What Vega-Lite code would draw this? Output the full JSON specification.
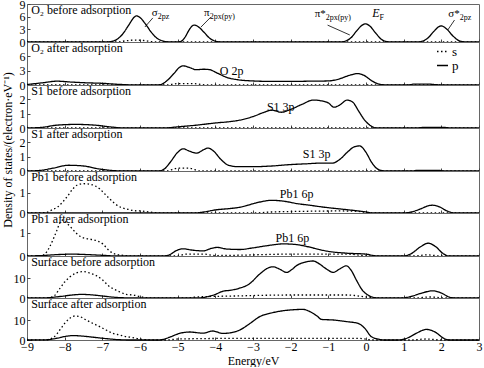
{
"$schema": "https://vega.github.io/schema/vega-lite/v6.json",
"padding": {"left": 0, "top": -3, "right": 0, "bottom": 0},
"autosize": {"type": "pad"},
"config": {
  "font": "Times New Roman, Liberation Serif, serif",
  "text": {"font": "Times New Roman, Liberation Serif, serif"},
  "view": {"stroke": "#666", "strokeWidth": 1},
  "axis": {"domain": false, "grid": false, "labelFont": "Times New Roman, Liberation Serif, serif", "titleFont": "Times New Roman, Liberation Serif, serif", "labelFontSize": 12, "labelColor": "#000", "titleFontSize": 12, "titleFontWeight": "normal", "titleColor": "#000", "tickColor": "#444", "labelOverlap": false},
  "legend": {"labelFont": "Times New Roman, Liberation Serif, serif"},
  "concat": {"spacing": 0}
},
"datasets": {
"curves": [
{"p":1,"o":"p","E":-9,"v":0},{"p":1,"o":"p","E":-6.9,"v":0},{"p":1,"o":"p","E":-6.75,"v":0.15},{"p":1,"o":"p","E":-6.6,"v":0.7},{"p":1,"o":"p","E":-6.45,"v":2.0},{"p":1,"o":"p","E":-6.3,"v":4.0},{"p":1,"o":"p","E":-6.15,"v":5.9},{"p":1,"o":"p","E":-6.1,"v":6.2},{"p":1,"o":"p","E":-6.0,"v":5.8},{"p":1,"o":"p","E":-5.85,"v":4.2},{"p":1,"o":"p","E":-5.7,"v":2.3},{"p":1,"o":"p","E":-5.55,"v":0.9},{"p":1,"o":"p","E":-5.4,"v":0.25},{"p":1,"o":"p","E":-5.25,"v":0.03},{"p":1,"o":"p","E":-5.1,"v":0},{"p":1,"o":"p","E":-5.0,"v":0},{"p":1,"o":"p","E":-4.9,"v":0.2},{"p":1,"o":"p","E":-4.8,"v":1.2},{"p":1,"o":"p","E":-4.7,"v":2.8},{"p":1,"o":"p","E":-4.6,"v":3.9},{"p":1,"o":"p","E":-4.55,"v":4.0},{"p":1,"o":"p","E":-4.45,"v":3.6},{"p":1,"o":"p","E":-4.3,"v":2.3},{"p":1,"o":"p","E":-4.15,"v":0.9},{"p":1,"o":"p","E":-4.0,"v":0.2},{"p":1,"o":"p","E":-3.85,"v":0},{"p":1,"o":"p","E":-0.7,"v":0},{"p":1,"o":"p","E":-0.55,"v":0.2},{"p":1,"o":"p","E":-0.4,"v":1.0},{"p":1,"o":"p","E":-0.25,"v":2.6},{"p":1,"o":"p","E":-0.1,"v":4.0},{"p":1,"o":"p","E":-0.02,"v":4.3},{"p":1,"o":"p","E":0.1,"v":3.8},{"p":1,"o":"p","E":0.25,"v":2.2},{"p":1,"o":"p","E":0.4,"v":0.7},{"p":1,"o":"p","E":0.55,"v":0.1},{"p":1,"o":"p","E":0.7,"v":0},{"p":1,"o":"p","E":1.35,"v":0},{"p":1,"o":"p","E":1.5,"v":0.2},{"p":1,"o":"p","E":1.65,"v":1.0},{"p":1,"o":"p","E":1.8,"v":2.5},{"p":1,"o":"p","E":1.95,"v":3.7},{"p":1,"o":"p","E":2.0,"v":3.8},{"p":1,"o":"p","E":2.15,"v":3.0},{"p":1,"o":"p","E":2.3,"v":1.5},{"p":1,"o":"p","E":2.45,"v":0.4},{"p":1,"o":"p","E":2.6,"v":0.05},{"p":1,"o":"p","E":2.75,"v":0},{"p":1,"o":"p","E":3,"v":0},
{"p":1,"o":"s","E":-9,"v":0},{"p":1,"o":"s","E":-6.6,"v":0},{"p":1,"o":"s","E":-6.4,"v":0.25},{"p":1,"o":"s","E":-6.15,"v":0.45},{"p":1,"o":"s","E":-5.9,"v":0.35},{"p":1,"o":"s","E":-5.7,"v":0.1},{"p":1,"o":"s","E":-5.5,"v":0},{"p":1,"o":"s","E":3,"v":0},
{"p":2,"o":"p","E":-9,"v":0.1},{"p":2,"o":"p","E":-8.6,"v":0.45},{"p":2,"o":"p","E":-8.2,"v":0.8},{"p":2,"o":"p","E":-7.8,"v":0.6},{"p":2,"o":"p","E":-7.4,"v":0.45},{"p":2,"o":"p","E":-7.0,"v":0.35},{"p":2,"o":"p","E":-6.6,"v":0.15},{"p":2,"o":"p","E":-6.2,"v":0.02},{"p":2,"o":"p","E":-5.7,"v":0},{"p":2,"o":"p","E":-5.45,"v":0.1},{"p":2,"o":"p","E":-5.3,"v":0.8},{"p":2,"o":"p","E":-5.1,"v":2.4},{"p":2,"o":"p","E":-4.95,"v":3.7},{"p":2,"o":"p","E":-4.85,"v":4.0},{"p":2,"o":"p","E":-4.7,"v":3.7},{"p":2,"o":"p","E":-4.5,"v":3.2},{"p":2,"o":"p","E":-4.3,"v":3.3},{"p":2,"o":"p","E":-4.15,"v":3.2},{"p":2,"o":"p","E":-3.95,"v":2.5},{"p":2,"o":"p","E":-3.7,"v":1.6},{"p":2,"o":"p","E":-3.4,"v":1.1},{"p":2,"o":"p","E":-3.0,"v":0.85},{"p":2,"o":"p","E":-2.5,"v":0.75},{"p":2,"o":"p","E":-2.0,"v":0.75},{"p":2,"o":"p","E":-1.5,"v":0.8},{"p":2,"o":"p","E":-1.0,"v":0.85},{"p":2,"o":"p","E":-0.7,"v":1.3},{"p":2,"o":"p","E":-0.45,"v":2.0},{"p":2,"o":"p","E":-0.22,"v":2.4},{"p":2,"o":"p","E":-0.05,"v":2.0},{"p":2,"o":"p","E":0.15,"v":0.9},{"p":2,"o":"p","E":0.3,"v":0.3},{"p":2,"o":"p","E":0.45,"v":0.05},{"p":2,"o":"p","E":0.6,"v":0},{"p":2,"o":"p","E":1.1,"v":0},{"p":2,"o":"p","E":1.3,"v":0.2},{"p":2,"o":"p","E":1.6,"v":0.2},{"p":2,"o":"p","E":1.9,"v":0.05},{"p":2,"o":"p","E":2.1,"v":0},{"p":2,"o":"p","E":3,"v":0},
{"p":2,"o":"s","E":-9,"v":0},{"p":2,"o":"s","E":-5.3,"v":0},{"p":2,"o":"s","E":-5.0,"v":0.3},{"p":2,"o":"s","E":-4.6,"v":0.3},{"p":2,"o":"s","E":-4.2,"v":0},{"p":2,"o":"s","E":3,"v":0},
{"p":3,"o":"p","E":-9,"v":0},{"p":3,"o":"p","E":-8.6,"v":0.05},{"p":3,"o":"p","E":-8.2,"v":0.2},{"p":3,"o":"p","E":-7.7,"v":0.25},{"p":3,"o":"p","E":-7.2,"v":0.2},{"p":3,"o":"p","E":-6.8,"v":0.08},{"p":3,"o":"p","E":-6.4,"v":0},{"p":3,"o":"p","E":-5.4,"v":0},{"p":3,"o":"p","E":-5.0,"v":0.08},{"p":3,"o":"p","E":-4.5,"v":0.2},{"p":3,"o":"p","E":-4.0,"v":0.35},{"p":3,"o":"p","E":-3.6,"v":0.45},{"p":3,"o":"p","E":-3.35,"v":0.55},{"p":3,"o":"p","E":-3.0,"v":0.8},{"p":3,"o":"p","E":-2.7,"v":1.1},{"p":3,"o":"p","E":-2.5,"v":1.25},{"p":3,"o":"p","E":-2.25,"v":1.1},{"p":3,"o":"p","E":-2.0,"v":1.3},{"p":3,"o":"p","E":-1.7,"v":1.65},{"p":3,"o":"p","E":-1.4,"v":1.95},{"p":3,"o":"p","E":-1.2,"v":1.9},{"p":3,"o":"p","E":-1.0,"v":1.75},{"p":3,"o":"p","E":-0.85,"v":1.45},{"p":3,"o":"p","E":-0.7,"v":1.6},{"p":3,"o":"p","E":-0.5,"v":1.95},{"p":3,"o":"p","E":-0.35,"v":1.8},{"p":3,"o":"p","E":-0.2,"v":1.2},{"p":3,"o":"p","E":-0.05,"v":0.6},{"p":3,"o":"p","E":0.1,"v":0.2},{"p":3,"o":"p","E":0.2,"v":0.05},{"p":3,"o":"p","E":0.3,"v":0},{"p":3,"o":"p","E":1.3,"v":0},{"p":3,"o":"p","E":1.6,"v":0.05},{"p":3,"o":"p","E":2.0,"v":0.05},{"p":3,"o":"p","E":2.3,"v":0},{"p":3,"o":"p","E":3,"v":0},
{"p":3,"o":"s","E":-9,"v":0},{"p":3,"o":"s","E":3,"v":0},
{"p":4,"o":"p","E":-9,"v":0},{"p":4,"o":"p","E":-8.7,"v":0.03},{"p":4,"o":"p","E":-8.3,"v":0.2},{"p":4,"o":"p","E":-7.9,"v":0.4},{"p":4,"o":"p","E":-7.5,"v":0.35},{"p":4,"o":"p","E":-7.1,"v":0.15},{"p":4,"o":"p","E":-6.7,"v":0.03},{"p":4,"o":"p","E":-6.4,"v":0},{"p":4,"o":"p","E":-5.5,"v":0},{"p":4,"o":"p","E":-5.35,"v":0.15},{"p":4,"o":"p","E":-5.2,"v":0.6},{"p":4,"o":"p","E":-5.0,"v":1.3},{"p":4,"o":"p","E":-4.85,"v":1.55},{"p":4,"o":"p","E":-4.7,"v":1.4},{"p":4,"o":"p","E":-4.5,"v":1.25},{"p":4,"o":"p","E":-4.3,"v":1.5},{"p":4,"o":"p","E":-4.2,"v":1.6},{"p":4,"o":"p","E":-4.05,"v":1.4},{"p":4,"o":"p","E":-3.85,"v":0.8},{"p":4,"o":"p","E":-3.65,"v":0.4},{"p":4,"o":"p","E":-3.4,"v":0.3},{"p":4,"o":"p","E":-3.0,"v":0.3},{"p":4,"o":"p","E":-2.5,"v":0.35},{"p":4,"o":"p","E":-2.0,"v":0.45},{"p":4,"o":"p","E":-1.6,"v":0.5},{"p":4,"o":"p","E":-1.2,"v":0.55},{"p":4,"o":"p","E":-0.9,"v":0.55},{"p":4,"o":"p","E":-0.7,"v":0.8},{"p":4,"o":"p","E":-0.5,"v":1.3},{"p":4,"o":"p","E":-0.3,"v":1.7},{"p":4,"o":"p","E":-0.17,"v":1.75},{"p":4,"o":"p","E":0.0,"v":1.3},{"p":4,"o":"p","E":0.15,"v":0.6},{"p":4,"o":"p","E":0.3,"v":0.15},{"p":4,"o":"p","E":0.45,"v":0.02},{"p":4,"o":"p","E":0.6,"v":0},{"p":4,"o":"p","E":1.2,"v":0},{"p":4,"o":"p","E":1.4,"v":0.05},{"p":4,"o":"p","E":1.9,"v":0.05},{"p":4,"o":"p","E":2.1,"v":0},{"p":4,"o":"p","E":3,"v":0},
{"p":4,"o":"s","E":-9,"v":0},{"p":4,"o":"s","E":-5.3,"v":0},{"p":4,"o":"s","E":-5.0,"v":0.2},{"p":4,"o":"s","E":-4.7,"v":0.2},{"p":4,"o":"s","E":-4.4,"v":0},{"p":4,"o":"s","E":3,"v":0},
{"p":5,"o":"s","E":-9,"v":0},{"p":5,"o":"s","E":-8.5,"v":0.02},{"p":5,"o":"s","E":-8.31,"v":0.18},{"p":5,"o":"s","E":-8.18,"v":0.3},{"p":5,"o":"s","E":-8.05,"v":0.54},{"p":5,"o":"s","E":-7.91,"v":0.86},{"p":5,"o":"s","E":-7.78,"v":1.18},{"p":5,"o":"s","E":-7.65,"v":1.38},{"p":5,"o":"s","E":-7.5,"v":1.43},{"p":5,"o":"s","E":-7.34,"v":1.41},{"p":5,"o":"s","E":-7.2,"v":1.33},{"p":5,"o":"s","E":-7.07,"v":1.18},{"p":5,"o":"s","E":-6.94,"v":0.94},{"p":5,"o":"s","E":-6.81,"v":0.7},{"p":5,"o":"s","E":-6.67,"v":0.46},{"p":5,"o":"s","E":-6.5,"v":0.27},{"p":5,"o":"s","E":-6.32,"v":0.18},{"p":5,"o":"s","E":-6.14,"v":0.11},{"p":5,"o":"s","E":-5.97,"v":0.1},{"p":5,"o":"s","E":-5.79,"v":0.06},{"p":5,"o":"s","E":-5.6,"v":0.02},{"p":5,"o":"s","E":-5.4,"v":0},{"p":5,"o":"s","E":-3.0,"v":0},{"p":5,"o":"s","E":-2.5,"v":0.05},{"p":5,"o":"s","E":-1.7,"v":0.08},{"p":5,"o":"s","E":-0.7,"v":0.1},{"p":5,"o":"s","E":-0.2,"v":0.08},{"p":5,"o":"s","E":0.1,"v":0},{"p":5,"o":"s","E":3,"v":0},
{"p":5,"o":"p","E":-9,"v":0},{"p":5,"o":"p","E":-4.6,"v":0},{"p":5,"o":"p","E":-4.3,"v":0.05},{"p":5,"o":"p","E":-4.0,"v":0.15},{"p":5,"o":"p","E":-3.6,"v":0.22},{"p":5,"o":"p","E":-3.35,"v":0.28},{"p":5,"o":"p","E":-3.0,"v":0.45},{"p":5,"o":"p","E":-2.7,"v":0.58},{"p":5,"o":"p","E":-2.5,"v":0.62},{"p":5,"o":"p","E":-2.2,"v":0.58},{"p":5,"o":"p","E":-1.8,"v":0.45},{"p":5,"o":"p","E":-1.5,"v":0.38},{"p":5,"o":"p","E":-1.1,"v":0.28},{"p":5,"o":"p","E":-0.7,"v":0.2},{"p":5,"o":"p","E":-0.3,"v":0.12},{"p":5,"o":"p","E":0.0,"v":0.05},{"p":5,"o":"p","E":0.2,"v":0},{"p":5,"o":"p","E":1.0,"v":0},{"p":5,"o":"p","E":1.2,"v":0.05},{"p":5,"o":"p","E":1.45,"v":0.2},{"p":5,"o":"p","E":1.65,"v":0.35},{"p":5,"o":"p","E":1.77,"v":0.38},{"p":5,"o":"p","E":1.95,"v":0.3},{"p":5,"o":"p","E":2.15,"v":0.1},{"p":5,"o":"p","E":2.35,"v":0},{"p":5,"o":"p","E":3,"v":0},
{"p":6,"o":"s","E":-9,"v":0},{"p":6,"o":"s","E":-8.65,"v":0},{"p":6,"o":"s","E":-8.53,"v":0.08},{"p":6,"o":"s","E":-8.4,"v":0.39},{"p":6,"o":"s","E":-8.31,"v":0.7},{"p":6,"o":"s","E":-8.22,"v":1.05},{"p":6,"o":"s","E":-8.13,"v":1.41},{"p":6,"o":"s","E":-8.05,"v":1.55},{"p":6,"o":"s","E":-7.95,"v":1.42},{"p":6,"o":"s","E":-7.82,"v":1.21},{"p":6,"o":"s","E":-7.69,"v":0.98},{"p":6,"o":"s","E":-7.56,"v":0.82},{"p":6,"o":"s","E":-7.38,"v":0.74},{"p":6,"o":"s","E":-7.25,"v":0.7},{"p":6,"o":"s","E":-7.12,"v":0.64},{"p":6,"o":"s","E":-6.98,"v":0.51},{"p":6,"o":"s","E":-6.85,"v":0.28},{"p":6,"o":"s","E":-6.72,"v":0.12},{"p":6,"o":"s","E":-6.59,"v":0.06},{"p":6,"o":"s","E":-6.4,"v":0.02},{"p":6,"o":"s","E":-6.2,"v":0},{"p":6,"o":"s","E":-5.0,"v":0},{"p":6,"o":"s","E":-4.8,"v":0.08},{"p":6,"o":"s","E":-4.3,"v":0.08},{"p":6,"o":"s","E":-4.0,"v":0.02},{"p":6,"o":"s","E":-3.5,"v":0.03},{"p":6,"o":"s","E":-2.0,"v":0.08},{"p":6,"o":"s","E":-0.5,"v":0.08},{"p":6,"o":"s","E":0.1,"v":0},{"p":6,"o":"s","E":1.3,"v":0},{"p":6,"o":"s","E":1.6,"v":0.05},{"p":6,"o":"s","E":2.0,"v":0},{"p":6,"o":"s","E":3,"v":0},
{"p":6,"o":"p","E":-9,"v":0},{"p":6,"o":"p","E":-8.6,"v":0.02},{"p":6,"o":"p","E":-8.2,"v":0.06},{"p":6,"o":"p","E":-7.8,"v":0.08},{"p":6,"o":"p","E":-7.4,"v":0.06},{"p":6,"o":"p","E":-7.0,"v":0.03},{"p":6,"o":"p","E":-6.6,"v":0},{"p":6,"o":"p","E":-5.4,"v":0},{"p":6,"o":"p","E":-5.22,"v":0.05},{"p":6,"o":"p","E":-5.05,"v":0.22},{"p":6,"o":"p","E":-4.86,"v":0.31},{"p":6,"o":"p","E":-4.6,"v":0.25},{"p":6,"o":"p","E":-4.33,"v":0.22},{"p":6,"o":"p","E":-4.1,"v":0.33},{"p":6,"o":"p","E":-3.95,"v":0.37},{"p":6,"o":"p","E":-3.7,"v":0.3},{"p":6,"o":"p","E":-3.35,"v":0.28},{"p":6,"o":"p","E":-3.0,"v":0.35},{"p":6,"o":"p","E":-2.6,"v":0.45},{"p":6,"o":"p","E":-2.2,"v":0.52},{"p":6,"o":"p","E":-1.9,"v":0.5},{"p":6,"o":"p","E":-1.6,"v":0.42},{"p":6,"o":"p","E":-1.3,"v":0.3},{"p":6,"o":"p","E":-1.0,"v":0.2},{"p":6,"o":"p","E":-0.5,"v":0.12},{"p":6,"o":"p","E":0.0,"v":0.08},{"p":6,"o":"p","E":0.2,"v":0.02},{"p":6,"o":"p","E":0.4,"v":0},{"p":6,"o":"p","E":1.0,"v":0},{"p":6,"o":"p","E":1.2,"v":0.1},{"p":6,"o":"p","E":1.45,"v":0.4},{"p":6,"o":"p","E":1.65,"v":0.55},{"p":6,"o":"p","E":1.85,"v":0.4},{"p":6,"o":"p","E":2.05,"v":0.1},{"p":6,"o":"p","E":2.2,"v":0},{"p":6,"o":"p","E":3,"v":0},
{"p":7,"o":"s","E":-9,"v":0},{"p":7,"o":"s","E":-8.5,"v":0},{"p":7,"o":"s","E":-8.31,"v":0.65},{"p":7,"o":"s","E":-8.13,"v":4.7},{"p":7,"o":"s","E":-8.0,"v":8.0},{"p":7,"o":"s","E":-7.87,"v":10.4},{"p":7,"o":"s","E":-7.69,"v":12.5},{"p":7,"o":"s","E":-7.51,"v":13.2},{"p":7,"o":"s","E":-7.34,"v":12.5},{"p":7,"o":"s","E":-7.16,"v":11.2},{"p":7,"o":"s","E":-6.98,"v":8.8},{"p":7,"o":"s","E":-6.85,"v":6.3},{"p":7,"o":"s","E":-6.72,"v":4.7},{"p":7,"o":"s","E":-6.54,"v":3.1},{"p":7,"o":"s","E":-6.37,"v":1.8},{"p":7,"o":"s","E":-6.19,"v":1.5},{"p":7,"o":"s","E":-6.01,"v":0.8},{"p":7,"o":"s","E":-5.84,"v":0.2},{"p":7,"o":"s","E":-5.6,"v":0},{"p":7,"o":"s","E":-4.8,"v":0},{"p":7,"o":"s","E":-4.5,"v":0.5},{"p":7,"o":"s","E":-3.5,"v":1.0},{"p":7,"o":"s","E":-2.0,"v":1.5},{"p":7,"o":"s","E":-0.5,"v":1.5},{"p":7,"o":"s","E":0.1,"v":0.3},{"p":7,"o":"s","E":0.3,"v":0},{"p":7,"o":"s","E":1.3,"v":0},{"p":7,"o":"s","E":1.7,"v":0.5},{"p":7,"o":"s","E":2.1,"v":0},{"p":7,"o":"s","E":3,"v":0},
{"p":7,"o":"p","E":-9,"v":0},{"p":7,"o":"p","E":-8.5,"v":0.1},{"p":7,"o":"p","E":-8.1,"v":0.8},{"p":7,"o":"p","E":-7.8,"v":1.5},{"p":7,"o":"p","E":-7.55,"v":1.8},{"p":7,"o":"p","E":-7.3,"v":1.6},{"p":7,"o":"p","E":-7.0,"v":1.0},{"p":7,"o":"p","E":-6.7,"v":0.4},{"p":7,"o":"p","E":-6.4,"v":0.1},{"p":7,"o":"p","E":-6.0,"v":0},{"p":7,"o":"p","E":-4.5,"v":0},{"p":7,"o":"p","E":-4.3,"v":0.3},{"p":7,"o":"p","E":-4.0,"v":1.8},{"p":7,"o":"p","E":-3.8,"v":3.4},{"p":7,"o":"p","E":-3.59,"v":3.9},{"p":7,"o":"p","E":-3.36,"v":4.9},{"p":7,"o":"p","E":-3.1,"v":7.0},{"p":7,"o":"p","E":-2.82,"v":12.0},{"p":7,"o":"p","E":-2.6,"v":15.0},{"p":7,"o":"p","E":-2.47,"v":15.6},{"p":7,"o":"p","E":-2.3,"v":14.5},{"p":7,"o":"p","E":-2.11,"v":12.8},{"p":7,"o":"p","E":-1.95,"v":14.5},{"p":7,"o":"p","E":-1.85,"v":16.1},{"p":7,"o":"p","E":-1.6,"v":18.0},{"p":7,"o":"p","E":-1.4,"v":18.5},{"p":7,"o":"p","E":-1.25,"v":17.2},{"p":7,"o":"p","E":-1.05,"v":14.5},{"p":7,"o":"p","E":-0.87,"v":12.8},{"p":7,"o":"p","E":-0.7,"v":14.5},{"p":7,"o":"p","E":-0.52,"v":16.1},{"p":7,"o":"p","E":-0.4,"v":14.0},{"p":7,"o":"p","E":-0.25,"v":8.8},{"p":7,"o":"p","E":-0.1,"v":4.0},{"p":7,"o":"p","E":0.05,"v":1.5},{"p":7,"o":"p","E":0.19,"v":0.3},{"p":7,"o":"p","E":0.35,"v":0},{"p":7,"o":"p","E":0.95,"v":0},{"p":7,"o":"p","E":1.2,"v":0.8},{"p":7,"o":"p","E":1.5,"v":2.6},{"p":7,"o":"p","E":1.78,"v":3.6},{"p":7,"o":"p","E":2.0,"v":2.5},{"p":7,"o":"p","E":2.22,"v":0.4},{"p":7,"o":"p","E":2.4,"v":0},{"p":7,"o":"p","E":3,"v":0},
{"p":8,"o":"s","E":-9,"v":0},{"p":8,"o":"s","E":-8.5,"v":0.1},{"p":8,"o":"s","E":-8.31,"v":1.1},{"p":8,"o":"s","E":-8.13,"v":5},{"p":8,"o":"s","E":-8.0,"v":8.3},{"p":8,"o":"s","E":-7.87,"v":10.8},{"p":8,"o":"s","E":-7.73,"v":12},{"p":8,"o":"s","E":-7.6,"v":11.7},{"p":8,"o":"s","E":-7.43,"v":10},{"p":8,"o":"s","E":-7.25,"v":8.3},{"p":8,"o":"s","E":-7.07,"v":6.7},{"p":8,"o":"s","E":-6.9,"v":5},{"p":8,"o":"s","E":-6.72,"v":3.3},{"p":8,"o":"s","E":-6.54,"v":2.5},{"p":8,"o":"s","E":-6.37,"v":1.7},{"p":8,"o":"s","E":-6.19,"v":1.2},{"p":8,"o":"s","E":-6.01,"v":0.5},{"p":8,"o":"s","E":-5.8,"v":0.1},{"p":8,"o":"s","E":-5.6,"v":0},{"p":8,"o":"s","E":-5.3,"v":0},{"p":8,"o":"s","E":-5.0,"v":0.5},{"p":8,"o":"s","E":-3.5,"v":0.8},{"p":8,"o":"s","E":-1.5,"v":0.8},{"p":8,"o":"s","E":-0.2,"v":0.8},{"p":8,"o":"s","E":0.2,"v":0},{"p":8,"o":"s","E":1.2,"v":0},{"p":8,"o":"s","E":1.6,"v":0.5},{"p":8,"o":"s","E":2.0,"v":0},{"p":8,"o":"s","E":3,"v":0},
{"p":8,"o":"p","E":-9,"v":0},{"p":8,"o":"p","E":-8.5,"v":0.1},{"p":8,"o":"p","E":-8.2,"v":0.9},{"p":8,"o":"p","E":-7.95,"v":1.9},{"p":8,"o":"p","E":-7.78,"v":2.2},{"p":8,"o":"p","E":-7.5,"v":1.9},{"p":8,"o":"p","E":-7.2,"v":1.3},{"p":8,"o":"p","E":-6.9,"v":0.7},{"p":8,"o":"p","E":-6.6,"v":0.2},{"p":8,"o":"p","E":-6.3,"v":0},{"p":8,"o":"p","E":-5.5,"v":0},{"p":8,"o":"p","E":-5.39,"v":0.3},{"p":8,"o":"p","E":-5.2,"v":1.5},{"p":8,"o":"p","E":-4.95,"v":3.3},{"p":8,"o":"p","E":-4.68,"v":4.0},{"p":8,"o":"p","E":-4.46,"v":3.6},{"p":8,"o":"p","E":-4.33,"v":3.4},{"p":8,"o":"p","E":-4.07,"v":4.5},{"p":8,"o":"p","E":-3.8,"v":3.3},{"p":8,"o":"p","E":-3.6,"v":3.6},{"p":8,"o":"p","E":-3.35,"v":5.0},{"p":8,"o":"p","E":-3.1,"v":8.0},{"p":8,"o":"p","E":-2.82,"v":11.7},{"p":8,"o":"p","E":-2.47,"v":13.7},{"p":8,"o":"p","E":-2.02,"v":15.0},{"p":8,"o":"p","E":-1.67,"v":15.3},{"p":8,"o":"p","E":-1.49,"v":14.2},{"p":8,"o":"p","E":-1.3,"v":12.0},{"p":8,"o":"p","E":-1.18,"v":10.3},{"p":8,"o":"p","E":-0.87,"v":10.0},{"p":8,"o":"p","E":-0.52,"v":9.2},{"p":8,"o":"p","E":-0.21,"v":8.3},{"p":8,"o":"p","E":-0.03,"v":5.8},{"p":8,"o":"p","E":0.14,"v":1.7},{"p":8,"o":"p","E":0.36,"v":0.3},{"p":8,"o":"p","E":0.5,"v":0},{"p":8,"o":"p","E":0.85,"v":0},{"p":8,"o":"p","E":1.1,"v":1.0},{"p":8,"o":"p","E":1.35,"v":3.5},{"p":8,"o":"p","E":1.6,"v":5.3},{"p":8,"o":"p","E":1.85,"v":3.8},{"p":8,"o":"p","E":2.05,"v":1.0},{"p":8,"o":"p","E":2.2,"v":0},{"p":8,"o":"p","E":3,"v":0}
],
"labels": [
{"p":1,"k":"title","E":-8.89,"v":8.76,"t":"O₂ before adsorption"},
{"p":2,"k":"title","E":-8.89,"v":8.8,"t":"O₂ after adsorption"},
{"p":3,"k":"title","E":-8.89,"v":2.93,"t":"S1 before adsorption"},
{"p":4,"k":"title","E":-8.89,"v":2.93,"t":"S1 after adsorption"},
{"p":5,"k":"title","E":-8.89,"v":2.0,"t":"Pb1 before adsorption"},
{"p":6,"k":"title","E":-8.89,"v":1.8,"t":"Pb1 after adsorption"},
{"p":7,"k":"title","E":-8.89,"v":20.5,"t":"Surface before adsorption"},
{"p":8,"k":"title","E":-8.89,"v":20.5,"t":"Surface after adsorption"},
{"p":2,"k":"note","E":-3.88,"v":2.1,"t":"O 2p"},
{"p":3,"k":"note","E":-2.63,"v":1.19,"t":"S1 3p"},
{"p":4,"k":"note","E":-1.68,"v":0.9,"t":"S1 3p"},
{"p":5,"k":"note","E":-2.29,"v":0.71,"t":"Pb1 6p"},
{"p":6,"k":"note","E":-2.4,"v":0.6,"t":"Pb1 6p"}
],
"orb": [
{"k":"orb","E":-5.53,"v":6.16,"m":"σ","s":"2pz"},
{"k":"orb","E":-4.15,"v":6.16,"m":"π","s":"2px(py)"},
{"k":"orb","E":-1.07,"v":5.9,"m":"π*","s":"2px(py)"},
{"k":"orb","E":2.49,"v":5.9,"m":"σ*","s":"2pz"},
{"k":"ef","E":0.36,"v":5.9,"m":"E","s":"F"}
],
"leaders": [
{"E":-5.66,"v":5.7,"E2":-5.87,"v2":3.55},
{"E":-4.12,"v":5.9,"E2":-4.38,"v2":3.55},
{"E":-1.02,"v":4.0,"E2":-0.43,"v2":1.66},
{"E":2.35,"v":5.2,"E2":2.17,"v2":2.84}
]
},
"vconcat": [
{
 "width": 452, "height": 38,
 "encoding": {
  "x": {"field":"E","type":"quantitative","scale":{"domain":[-9,3],"nice":false,"zero":false},"axis":{"values":[-9,-8,-7,-6,-5,-4,-3,-2,-1,0,1,2,3],"labels":false,"tickSize":-3,"title":null}},
  "y": {"field":"v","type":"quantitative","scale":{"domain":[0,9],"nice":false},"axis":{"values":[0,3,6,9],"tickSize":-3,"labelPadding":5,"title":null}}
 },
 "layer": [
  {"data":{"name":"curves"},"transform":[{"filter":"datum.p==1"}],"mark":{"type":"line","interpolate":"monotone","color":"#000","strokeWidth":1.3},"encoding":{"strokeDash":{"field":"o","type":"nominal","scale":{"domain":["s","p"],"range":[[1.5,2.5],[1,0]]},"legend":null}}},
  {"data":{"values":[{"E":0}]},"mark":{"type":"rule","color":"#888","strokeDash":[5,3],"strokeWidth":1.2},"encoding":{"y":{"datum":0},"y2":{"datum":9}}},
  {"data":{"name":"labels"},"transform":[{"filter":"datum.p==1 && datum.k=='title'"}],"mark":{"type":"text","align":"left","baseline":"top","fontSize":12},"encoding":{"text":{"field":"t"}}},
  {"data":{"name":"orb"},"transform":[{"filter":"datum.k=='orb'"}],"mark":{"type":"text","align":"right","baseline":"alphabetic","fontSize":11},"encoding":{"text":{"field":"m"}}},
  {"data":{"name":"orb"},"transform":[{"filter":"datum.k=='ef'"}],"mark":{"type":"text","align":"right","baseline":"alphabetic","fontSize":12,"fontStyle":"italic"},"encoding":{"text":{"field":"m"}}},
  {"data":{"name":"orb"},"mark":{"type":"text","align":"left","baseline":"alphabetic","fontSize":8,"dy":3},"encoding":{"text":{"field":"s"}}},
  {"data":{"name":"leaders"},"mark":{"type":"rule","color":"#000","strokeWidth":0.8},"encoding":{"x2":{"field":"E2"},"y2":{"field":"v2"}}}
 ]
},
{
 "width": 452, "height": 43,
 "encoding": {
  "x": {"field":"E","type":"quantitative","scale":{"domain":[-9,3],"nice":false,"zero":false},"axis":{"values":[-9,-8,-7,-6,-5,-4,-3,-2,-1,0,1,2,3],"labels":false,"tickSize":-3,"title":null}},
  "y": {"field":"v","type":"quantitative","scale":{"domain":[0,9],"nice":false},"axis":{"values":[0,3,6],"tickSize":-3,"labelPadding":5,"title":null}}
 },
 "layer": [
  {"data":{"name":"curves"},"transform":[{"filter":"datum.p==2"}],"mark":{"type":"line","interpolate":"monotone","color":"#000","strokeWidth":1.3},"encoding":{"strokeDash":{"field":"o","type":"nominal","scale":{"domain":["s","p"],"range":[[1.5,2.5],[1,0]]},"legend":{"orient":"none","legendX":409,"legendY":3,"title":null,"symbolType":"stroke","labelFontSize":13,"labelOffset":3,"symbolStrokeWidth":1.3,"symbolStrokeColor":"#000","rowPadding":0,"padding":0,"symbolSize":121}}}},
  {"data":{"values":[{"E":0}]},"mark":{"type":"rule","color":"#888","strokeDash":[5,3],"strokeWidth":1.2},"encoding":{"y":{"datum":0},"y2":{"datum":9}}},
  {"data":{"name":"labels"},"transform":[{"filter":"datum.p==2 && datum.k=='title'"}],"mark":{"type":"text","align":"left","baseline":"top","fontSize":12},"encoding":{"text":{"field":"t"}}},
  {"data":{"name":"labels"},"transform":[{"filter":"datum.p==2 && datum.k=='note'"}],"mark":{"type":"text","align":"left","baseline":"alphabetic","fontSize":12},"encoding":{"text":{"field":"t"}}}
 ]
},
{
 "width": 452, "height": 43,
 "encoding": {
  "x": {"field":"E","type":"quantitative","scale":{"domain":[-9,3],"nice":false,"zero":false},"axis":{"values":[-9,-8,-7,-6,-5,-4,-3,-2,-1,0,1,2,3],"labels":false,"tickSize":-3,"title":null}},
  "y": {"field":"v","type":"quantitative","scale":{"domain":[0,3],"nice":false},"axis":{"values":[0,1,2],"tickSize":-3,"labelPadding":5,"title":null}}
 },
 "layer": [
  {"data":{"name":"curves"},"transform":[{"filter":"datum.p==3"}],"mark":{"type":"line","interpolate":"monotone","color":"#000","strokeWidth":1.3},"encoding":{"strokeDash":{"field":"o","type":"nominal","scale":{"domain":["s","p"],"range":[[1.5,2.5],[1,0]]},"legend":null}}},
  {"data":{"values":[{"E":0}]},"mark":{"type":"rule","color":"#888","strokeDash":[5,3],"strokeWidth":1.2},"encoding":{"y":{"datum":0},"y2":{"datum":3}}},
  {"data":{"name":"labels"},"transform":[{"filter":"datum.p==3 && datum.k=='title'"}],"mark":{"type":"text","align":"left","baseline":"top","fontSize":12},"encoding":{"text":{"field":"t"}}},
  {"data":{"name":"labels"},"transform":[{"filter":"datum.p==3 && datum.k=='note'"}],"mark":{"type":"text","align":"left","baseline":"alphabetic","fontSize":12},"encoding":{"text":{"field":"t"}}}
 ]
},
{
 "width": 452, "height": 43,
 "encoding": {
  "x": {"field":"E","type":"quantitative","scale":{"domain":[-9,3],"nice":false,"zero":false},"axis":{"values":[-9,-8,-7,-6,-5,-4,-3,-2,-1,0,1,2,3],"labels":false,"tickSize":-3,"title":null}},
  "y": {"field":"v","type":"quantitative","scale":{"domain":[0,3],"nice":false},"axis":{"values":[0,1,2],"tickSize":-3,"labelPadding":5,"title":"Density of states/(electron·eV⁻¹)","titlePadding":5}}
 },
 "layer": [
  {"data":{"name":"curves"},"transform":[{"filter":"datum.p==4"}],"mark":{"type":"line","interpolate":"monotone","color":"#000","strokeWidth":1.3},"encoding":{"strokeDash":{"field":"o","type":"nominal","scale":{"domain":["s","p"],"range":[[1.5,2.5],[1,0]]},"legend":null}}},
  {"data":{"values":[{"E":0}]},"mark":{"type":"rule","color":"#888","strokeDash":[5,3],"strokeWidth":1.2},"encoding":{"y":{"datum":0},"y2":{"datum":3}}},
  {"data":{"name":"labels"},"transform":[{"filter":"datum.p==4 && datum.k=='title'"}],"mark":{"type":"text","align":"left","baseline":"top","fontSize":12},"encoding":{"text":{"field":"t"}}},
  {"data":{"name":"labels"},"transform":[{"filter":"datum.p==4 && datum.k=='note'"}],"mark":{"type":"text","align":"left","baseline":"alphabetic","fontSize":12},"encoding":{"text":{"field":"t"}}}
 ]
},
{
 "width": 452, "height": 42,
 "encoding": {
  "x": {"field":"E","type":"quantitative","scale":{"domain":[-9,3],"nice":false,"zero":false},"axis":{"values":[-9,-8,-7,-6,-5,-4,-3,-2,-1,0,1,2,3],"labels":false,"tickSize":-3,"title":null}},
  "y": {"field":"v","type":"quantitative","scale":{"domain":[0,2.05],"nice":false},"axis":{"values":[0,1],"tickSize":-3,"labelPadding":5,"title":null}}
 },
 "layer": [
  {"data":{"name":"curves"},"transform":[{"filter":"datum.p==5"}],"mark":{"type":"line","interpolate":"monotone","color":"#000","strokeWidth":1.3},"encoding":{"strokeDash":{"field":"o","type":"nominal","scale":{"domain":["s","p"],"range":[[1.5,2.5],[1,0]]},"legend":null}}},
  {"data":{"values":[{"E":0}]},"mark":{"type":"rule","color":"#888","strokeDash":[5,3],"strokeWidth":1.2},"encoding":{"y":{"datum":0},"y2":{"datum":2.05}}},
  {"data":{"name":"labels"},"transform":[{"filter":"datum.p==5 && datum.k=='title'"}],"mark":{"type":"text","align":"left","baseline":"top","fontSize":12},"encoding":{"text":{"field":"t"}}},
  {"data":{"name":"labels"},"transform":[{"filter":"datum.p==5 && datum.k=='note'"}],"mark":{"type":"text","align":"left","baseline":"alphabetic","fontSize":12},"encoding":{"text":{"field":"t"}}}
 ]
},
{
 "width": 452, "height": 43,
 "encoding": {
  "x": {"field":"E","type":"quantitative","scale":{"domain":[-9,3],"nice":false,"zero":false},"axis":{"values":[-9,-8,-7,-6,-5,-4,-3,-2,-1,0,1,2,3],"labels":false,"tickSize":-3,"title":null}},
  "y": {"field":"v","type":"quantitative","scale":{"domain":[0,1.85],"nice":false},"axis":{"values":[0,1],"tickSize":-3,"labelPadding":5,"title":null}}
 },
 "layer": [
  {"data":{"name":"curves"},"transform":[{"filter":"datum.p==6"}],"mark":{"type":"line","interpolate":"monotone","color":"#000","strokeWidth":1.3},"encoding":{"strokeDash":{"field":"o","type":"nominal","scale":{"domain":["s","p"],"range":[[1.5,2.5],[1,0]]},"legend":null}}},
  {"data":{"values":[{"E":0}]},"mark":{"type":"rule","color":"#888","strokeDash":[5,3],"strokeWidth":1.2},"encoding":{"y":{"datum":0},"y2":{"datum":1.85}}},
  {"data":{"name":"labels"},"transform":[{"filter":"datum.p==6 && datum.k=='title'"}],"mark":{"type":"text","align":"left","baseline":"top","fontSize":12},"encoding":{"text":{"field":"t"}}},
  {"data":{"name":"labels"},"transform":[{"filter":"datum.p==6 && datum.k=='note'"}],"mark":{"type":"text","align":"left","baseline":"alphabetic","fontSize":12},"encoding":{"text":{"field":"t"}}}
 ]
},
{
 "width": 452, "height": 42,
 "encoding": {
  "x": {"field":"E","type":"quantitative","scale":{"domain":[-9,3],"nice":false,"zero":false},"axis":{"values":[-9,-8,-7,-6,-5,-4,-3,-2,-1,0,1,2,3],"labels":false,"tickSize":-3,"title":null}},
  "y": {"field":"v","type":"quantitative","scale":{"domain":[0,21],"nice":false},"axis":{"values":[0,10],"tickSize":-3,"labelPadding":5,"title":null}}
 },
 "layer": [
  {"data":{"name":"curves"},"transform":[{"filter":"datum.p==7"}],"mark":{"type":"line","interpolate":"monotone","color":"#000","strokeWidth":1.3},"encoding":{"strokeDash":{"field":"o","type":"nominal","scale":{"domain":["s","p"],"range":[[1.5,2.5],[1,0]]},"legend":null}}},
  {"data":{"values":[{"E":0}]},"mark":{"type":"rule","color":"#888","strokeDash":[5,3],"strokeWidth":1.2},"encoding":{"y":{"datum":0},"y2":{"datum":21}}},
  {"data":{"name":"labels"},"transform":[{"filter":"datum.p==7 && datum.k=='title'"}],"mark":{"type":"text","align":"left","baseline":"top","fontSize":12},"encoding":{"text":{"field":"t"}}}
 ]
},
{
 "width": 452, "height": 42,
 "encoding": {
  "x": {"field":"E","type":"quantitative","scale":{"domain":[-9,3],"nice":false,"zero":false},"axis":{"values":[-9,-8,-7,-6,-5,-4,-3,-2,-1,0,1,2,3],"labels":true,"labelFlush":false,"tickSize":-3,"labelPadding":4,"title":"Energy/eV","titlePadding":3}},
  "y": {"field":"v","type":"quantitative","scale":{"domain":[0,21],"nice":false},"axis":{"values":[0,10],"tickSize":-3,"labelPadding":5,"title":null}}
 },
 "layer": [
  {"data":{"name":"curves"},"transform":[{"filter":"datum.p==8"}],"mark":{"type":"line","interpolate":"monotone","color":"#000","strokeWidth":1.3},"encoding":{"strokeDash":{"field":"o","type":"nominal","scale":{"domain":["s","p"],"range":[[1.5,2.5],[1,0]]},"legend":null}}},
  {"data":{"values":[{"E":0}]},"mark":{"type":"rule","color":"#888","strokeDash":[5,3],"strokeWidth":1.2},"encoding":{"y":{"datum":0},"y2":{"datum":21}}},
  {"data":{"name":"labels"},"transform":[{"filter":"datum.p==8 && datum.k=='title'"}],"mark":{"type":"text","align":"left","baseline":"top","fontSize":12},"encoding":{"text":{"field":"t"}}}
 ]
}
],
"spacing": 0,
"bounds": "flush",
"resolve": {"scale": {"strokeDash": "independent"}, "legend": {"strokeDash": "independent"}}
}
